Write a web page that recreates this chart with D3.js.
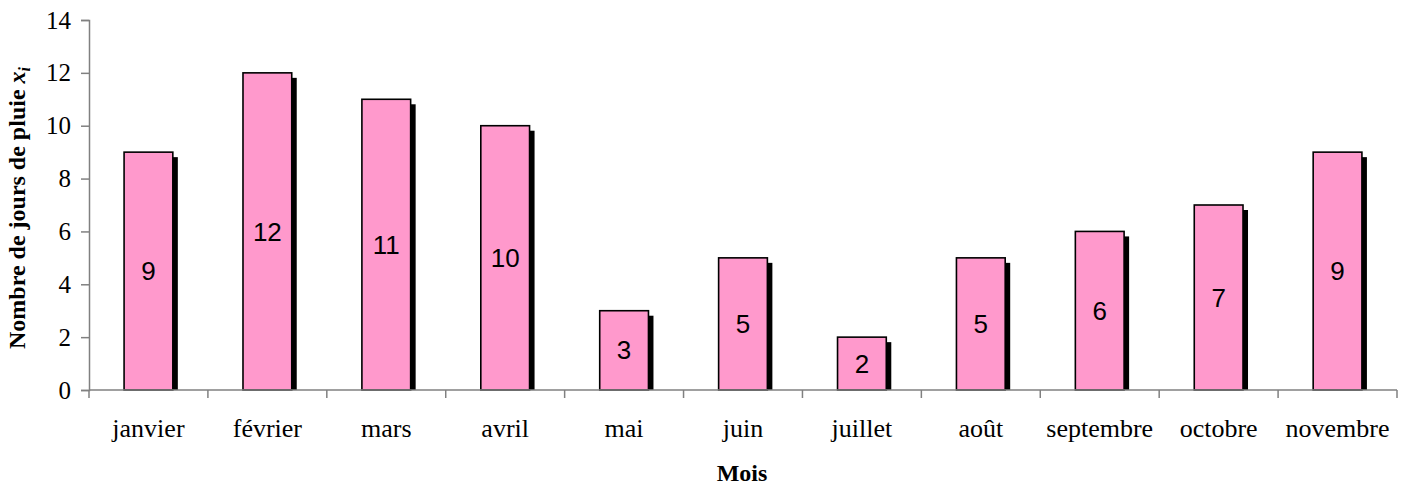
<!DOCTYPE html>
<html>
<head>
<meta charset="utf-8">
<script src="https://cdn.jsdelivr.net/npm/d3@7"></script>
<style>
  html, body { margin: 0; padding: 0; background: #fff; }
  svg { display: block; }
</style>
</head>
<body>
<svg id="chart" width="1410" height="485"></svg>
<script>
// Rainy days per month
const months = ["janvier", "février", "mars", "avril", "mai", "juin", "juillet", "août", "septembre", "octobre", "novembre"];
const rainyDays = [9, 12, 11, 10, 3, 5, 2, 5, 6, 7, 9];
const yTicks = [0, 2, 4, 6, 8, 10, 12, 14];

const svg = d3.select("#chart");
const margin = { left: 89, right: 13, top: 20, bottom: 95 };
const W = 1410, H = 485;
const plotW = W - margin.left - margin.right;
const plotH = H - margin.top - margin.bottom;

const x = d3.scaleBand().domain(months).range([0, plotW]).paddingInner(0.59).paddingOuter(0.295);
const xTick = d3.scaleBand().domain(months).range([0, plotW]);
const y = d3.scaleLinear().domain([0, 14]).range([plotH, 0]);

const g = svg.append("g").attr("transform", `translate(${margin.left},${margin.top})`);

const clip = svg.append("defs").append("clipPath").attr("id", "plot-clip");
clip.append("rect").attr("x", 0).attr("y", -10).attr("width", plotW + 10).attr("height", plotH + 10);

// drop shadows behind bars
g.append("g").attr("clip-path", "url(#plot-clip)")
  .selectAll("rect").data(rainyDays).join("rect")
  .attr("x", (d, i) => x(months[i]) + 5)
  .attr("y", d => y(d) + 5)
  .attr("width", x.bandwidth())
  .attr("height", d => plotH - y(d))
  .attr("fill", "#000");

// bars
g.append("g").selectAll("rect").data(rainyDays).join("rect")
  .attr("x", (d, i) => x(months[i]))
  .attr("y", d => y(d))
  .attr("width", x.bandwidth())
  .attr("height", d => plotH - y(d))
  .attr("fill", "#FF99CC")
  .attr("stroke", "#000")
  .attr("stroke-width", 1.6);

// value labels centred in each bar
g.append("g").selectAll("text").data(rainyDays).join("text")
  .attr("x", (d, i) => x(months[i]) + x.bandwidth() / 2)
  .attr("y", d => (y(d) + plotH) / 2)
  .attr("dy", "0.35em")
  .attr("text-anchor", "middle")
  .attr("font-family", "Liberation Sans, Arial, sans-serif")
  .attr("font-size", 26)
  .attr("fill", "#000")
  .text(d => d);

// y axis
const yAxis = g.append("g")
  .call(d3.axisLeft(y).tickValues(yTicks).tickSize(8).tickPadding(10).tickFormat(d3.format("d")));
yAxis.select(".domain").attr("stroke", "#808080").attr("stroke-width", 1.5);
yAxis.selectAll(".tick line").attr("stroke", "#808080").attr("stroke-width", 1.5);
yAxis.selectAll(".tick text")
  .attr("font-family", "Liberation Serif, Times New Roman, serif")
  .attr("font-size", 25).attr("fill", "#000");

// x axis with ticks between categories
const xAxisG = g.append("g").attr("transform", `translate(0,${plotH})`);
xAxisG.append("line").attr("x1", 0).attr("x2", plotW).attr("y1", 0).attr("y2", 0)
  .attr("stroke", "#808080").attr("stroke-width", 1.5);
const tickPos = months.map(m => xTick(m)).concat([plotW]);
xAxisG.selectAll("line.tk").data(tickPos).join("line").attr("class", "tk")
  .attr("x1", d => d).attr("x2", d => d).attr("y1", 0).attr("y2", 8)
  .attr("stroke", "#808080").attr("stroke-width", 1.5);
xAxisG.selectAll("text").data(months).join("text")
  .attr("x", m => xTick(m) + xTick.bandwidth() / 2)
  .attr("y", 47)
  .attr("text-anchor", "middle")
  .attr("font-family", "Liberation Serif, Times New Roman, serif")
  .attr("font-size", 26).attr("fill", "#000")
  .text(m => m);

// axis titles
svg.append("text")
  .attr("x", margin.left + plotW / 2 - 1).attr("y", 481)
  .attr("text-anchor", "middle")
  .attr("font-family", "Liberation Serif, Times New Roman, serif")
  .attr("font-weight", "bold").attr("font-size", 24)
  .text("Mois");

const yt = svg.append("text")
  .attr("transform", "translate(25,208) rotate(-90)")
  .attr("text-anchor", "middle")
  .attr("font-family", "Liberation Serif, Times New Roman, serif")
  .attr("font-weight", "bold").attr("font-size", 24);
yt.append("tspan").text("Nombre de jours de pluie ");
yt.append("tspan").attr("font-style", "italic").text("x");
yt.append("tspan").attr("font-style", "italic").attr("font-size", 16).attr("dy", 5).text("i");
</script>
</body>
</html>
